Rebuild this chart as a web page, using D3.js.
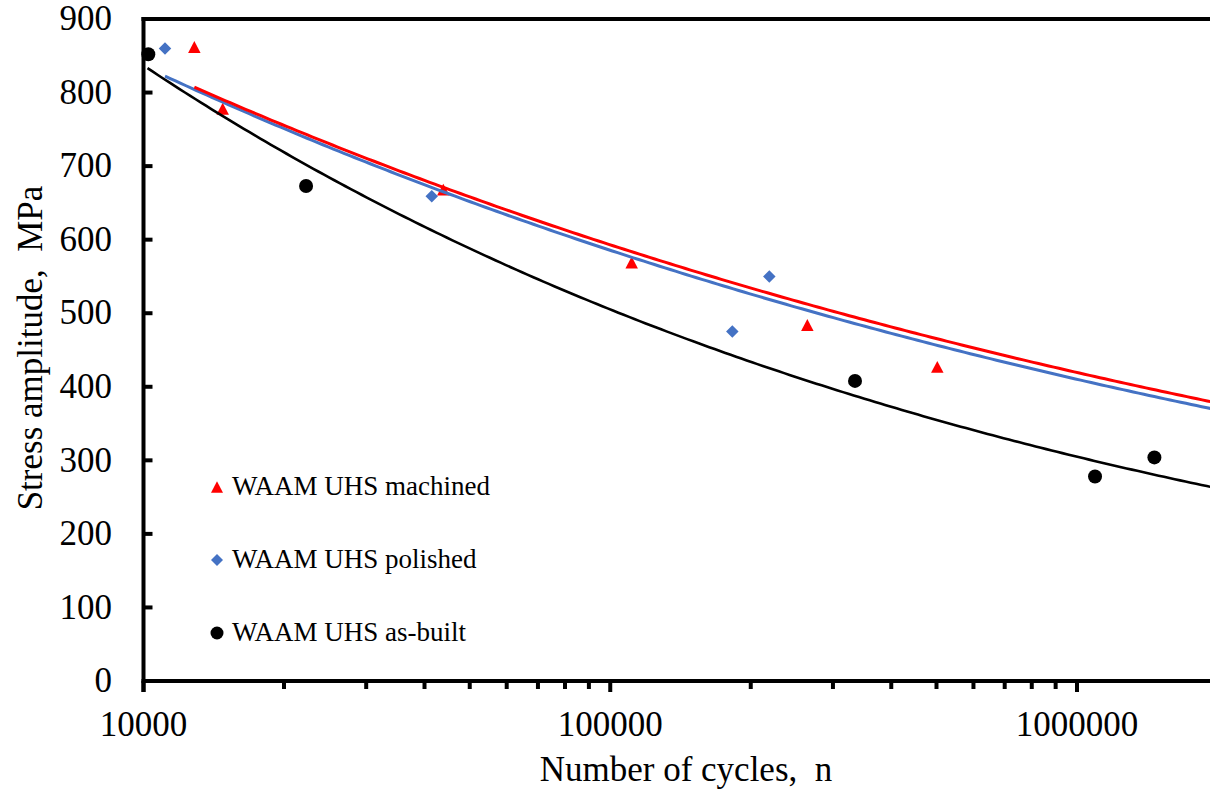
<!DOCTYPE html>
<html>
<head>
<meta charset="utf-8">
<script src="https://cdn.jsdelivr.net/npm/d3@7/dist/d3.min.js"></script>
<style>
  html, body { margin: 0; padding: 0; background: #fff; overflow: hidden; }
  svg { display: block; }
  text { font-family: "Liberation Serif", "Times New Roman", serif; fill: #000; }
</style>
</head>
<body>
<svg id="chart" width="1210" height="789"></svg>
<script>
// Fatigue test results (cycles to failure, stress amplitude in MPa)
const machinedCycles = [12850, 14780, 43880, 111150, 264400, 502000];
const machinedStress = [862, 778, 668, 569, 484, 427];

const polishedCycles = [11120, 41450, 182600, 219200];
const polishedStress = [860, 659, 475, 550];

const asBuiltCycles = [10240, 22300, 334500, 1093000, 1465000];
const asBuiltStress = [852, 673, 408, 278, 304];

// Basquin power-law curves S = a * n^b : [a, b, first n]
const machinedCurve = [3350, -0.1504, 12850];
const polishedCurve = [3472, -0.1546, 11120];
const asBuiltCurve  = [6301, -0.2192, 10200];

const seriesNames = ["WAAM UHS machined", "WAAM UHS polished", "WAAM UHS as-built"];
const seriesColors = ["#FF0000", "#4472C4", "#000000"];

const xMajorTicks = [10000, 100000, 1000000];
const yTicks = [0, 100, 200, 300, 400, 500, 600, 700, 800, 900];

const xTitle = "Number of cycles,  n";
const yTitle = "Stress amplitude,  MPa";

// ---- layout ----
const svg = d3.select("#chart");
const plotLeft = 143.5, plotTop = 19, plotBottom = 681;
const nMax = 2000000;
const decade = 466.75;

const x = d3.scaleLog().domain([10000, nMax])
  .range([plotLeft, plotLeft + Math.log10(nMax / 10000) * decade]);
const y = d3.scaleLinear().domain([0, 900]).range([plotBottom, plotTop]);

// ---- trend curves ----
const curveLine = d3.line().x(d => x(d[0])).y(d => y(d[1]));
function curvePoints(c) {
  const [a, b, n0] = c;
  const l0 = Math.log10(n0), l1 = Math.log10(nMax);
  return d3.range(0, 201).map(i => {
    const n = Math.pow(10, l0 + (l1 - l0) * i / 200);
    return [n, a * Math.pow(n, b)];
  });
}

// ---- markers ----
const series = [
  { cycles: machinedCycles, stress: machinedStress, curve: machinedCurve, shape: "tri" },
  { cycles: polishedCycles, stress: polishedStress, curve: polishedCurve, shape: "dia" },
  { cycles: asBuiltCycles,  stress: asBuiltStress,  curve: asBuiltCurve,  shape: "dot" }
];

function drawMarker(g, shape, cx, cy, color, s) {
  if (shape === "tri") {
    const h = s * 0.95;
    g.append("path")
      .attr("d", `M${cx},${cy - h / 2}L${cx + s / 2},${cy + h / 2}L${cx - s / 2},${cy + h / 2}Z`)
      .attr("fill", color);
  } else if (shape === "dia") {
    const r = s / 2;
    g.append("path")
      .attr("d", `M${cx},${cy - r}L${cx + r},${cy}L${cx},${cy + r}L${cx - r},${cy}Z`)
      .attr("fill", color);
  } else {
    g.append("circle").attr("cx", cx).attr("cy", cy).attr("r", s / 2).attr("fill", color);
  }
}

const markerLayer = svg.append("g");
series.forEach((s, i) => {
  s.cycles.forEach((n, j) => {
    drawMarker(markerLayer, s.shape, x(n), y(s.stress[j]), seriesColors[i], s.shape === "dot" ? 14 : 12.5);
  });
});

const curveLayer = svg.append("g").attr("fill", "none");
[2, 1, 0].forEach(i => {
  curveLayer.append("path")
    .attr("d", curveLine(curvePoints(series[i].curve)))
    .attr("stroke", seriesColors[i])
    .attr("stroke-width", i === 2 ? 2.6 : 3);
});

// ---- axes ----
const axisG = svg.append("g");

// frame top
axisG.append("line")
  .attr("x1", plotLeft - 2).attr("x2", 1210).attr("y1", plotTop).attr("y2", plotTop)
  .attr("stroke", "#000").attr("stroke-width", 4);

// y axis
axisG.append("line")
  .attr("x1", plotLeft).attr("x2", plotLeft).attr("y1", plotTop - 2).attr("y2", plotBottom + 11)
  .attr("stroke", "#000").attr("stroke-width", 4);
yTicks.forEach(t => {
  axisG.append("line")
    .attr("x1", plotLeft).attr("x2", plotLeft + 9).attr("y1", y(t)).attr("y2", y(t))
    .attr("stroke", "#000").attr("stroke-width", 4);
  axisG.append("text")
    .attr("x", 112).attr("y", y(t)).attr("dy", "0.32em")
    .attr("text-anchor", "end").attr("font-size", 35)
    .text(t);
});

// x axis
axisG.append("line")
  .attr("x1", plotLeft - 2).attr("x2", 1210).attr("y1", plotBottom).attr("y2", plotBottom)
  .attr("stroke", "#000").attr("stroke-width", 4);
const minorTicks = x.ticks().filter(t => !xMajorTicks.includes(t));
minorTicks.forEach(t => {
  axisG.append("line")
    .attr("x1", x(t)).attr("x2", x(t)).attr("y1", plotBottom).attr("y2", plotBottom + 8)
    .attr("stroke", "#000").attr("stroke-width", 4);
});
xMajorTicks.forEach(t => {
  axisG.append("line")
    .attr("x1", x(t)).attr("x2", x(t)).attr("y1", plotBottom).attr("y2", plotBottom + 11)
    .attr("stroke", "#000").attr("stroke-width", 4);
  axisG.append("text")
    .attr("x", x(t)).attr("y", 736)
    .attr("text-anchor", "middle").attr("font-size", 35)
    .text(String(t));
});

// titles
svg.append("text")
  .attr("x", 686).attr("y", 781)
  .attr("text-anchor", "middle").attr("font-size", 35)
  .style("white-space", "pre")
  .text(xTitle);
svg.append("text")
  .attr("transform", "translate(42,348) rotate(-90)")
  .attr("text-anchor", "middle").attr("font-size", 35)
  .style("white-space", "pre")
  .text(yTitle);

// ---- legend ----
const legend = svg.append("g");
const legendY = [487, 560, 633];
series.forEach((s, i) => {
  drawMarker(legend, s.shape, 217, legendY[i], seriesColors[i], s.shape === "dot" ? 13 : 12);
  legend.append("text")
    .attr("x", 232).attr("y", legendY[i] + 8)
    .attr("font-size", 27)
    .text(seriesNames[i]);
});
</script>
</body>
</html>
